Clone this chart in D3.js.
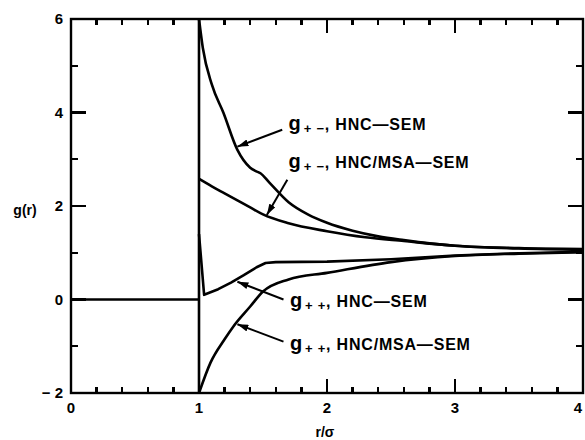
<!DOCTYPE html>
<html>
<head>
<meta charset="utf-8">
<script src="https://cdn.jsdelivr.net/npm/d3@7"></script>
<style>
    body { margin: 0; background: #fff; }
    svg { display: block; font-family: "Liberation Sans", Arial, sans-serif; font-weight: bold; }
</style>
</head>
<body>
<div id="chart"></div>
<script>
// values, r/sigma vs g(r)
const rCore = [0, 1];
const gCore = [0, 0];

const rPmHnc = [1.0, 1.03, 1.1, 1.19, 1.3, 1.4, 1.44, 1.48, 1.55, 1.7, 1.85, 2.0, 2.2, 2.4, 2.6, 3.0, 3.5, 4.0];
const gPmHnc = [6.0, 5.38, 4.6, 4.0, 3.2, 2.82, 2.75, 2.7, 2.5, 2.08, 1.82, 1.64, 1.47, 1.35, 1.27, 1.15, 1.1, 1.08];

const rPmMsa = [1.0, 1.1, 1.2, 1.3, 1.4, 1.5, 1.7, 2.0, 2.3, 2.6, 3.0, 3.5, 4.0];
const gPmMsa = [2.58, 2.42, 2.27, 2.12, 1.97, 1.82, 1.63, 1.46, 1.33, 1.25, 1.15, 1.09, 1.06];

const rPpHnc = [1.0, 1.04, 1.15, 1.25, 1.35, 1.45, 1.52, 1.6, 2.0, 2.5, 3.0, 3.5, 4.0];
const gPpHnc = [1.4, 0.1, 0.22, 0.36, 0.52, 0.69, 0.78, 0.8, 0.81, 0.86, 0.94, 0.99, 1.02];

const rPpMsa = [1.0, 1.09, 1.2, 1.27, 1.4, 1.5, 1.7, 2.0, 2.5, 3.0, 3.5, 4.0];
const gPpMsa = [-2.0, -1.35, -0.85, -0.57, -0.15, 0.17, 0.43, 0.57, 0.8, 0.93, 0.98, 1.01];

const xTicks = [0, 1, 2, 3, 4];
const xTickLabels = ["0", "1", "2", "3", "4"];
const yTicks = [-2, 0, 2, 4, 6];
const yTickLabels = ["\u2212 2", "0", "2", "4", "6"];

const labelSubs = ["+ \u2212", "+ \u2212", "+ +", "+ +"];
const labelNames = [", HNC\u2014SEM", ", HNC/MSA\u2014SEM", ", HNC\u2014SEM", ", HNC/MSA\u2014SEM"];
// text anchor and arrow (from -> to) in data units
const labelAt = [[1.70, 3.63], [1.70, 2.82], [1.71, -0.15], [1.71, -1.07]];
const arrowFrom = [[1.65, 3.63], [1.69, 2.56], [1.66, 0.0], [1.66, -0.90]];
const arrowTo = [[1.30, 3.27], [1.53, 1.81], [1.30, 0.38], [1.30, -0.53]];

const frame = {left: 71, right: 583, top: 19, bottom: 393};

const x = d3.scaleLinear().domain([0, 4]).range([frame.left, frame.right]);
const y = d3.scaleLinear().domain([-2, 6]).range([frame.bottom, frame.top]);

const svg = d3.select("#chart").append("svg")
    .attr("width", 585)
    .attr("height", 440);

svg.append("defs").append("marker")
    .attr("id", "head")
    .attr("viewBox", "0 0 11 7")
    .attr("refX", 11)
    .attr("refY", 3.5)
    .attr("markerWidth", 11)
    .attr("markerHeight", 7)
    .attr("markerUnits", "userSpaceOnUse")
    .attr("orient", "auto")
    .append("path")
    .attr("d", "M0,0 L11,3.5 L0,7 z")
    .attr("fill", "#000");

svg.append("rect")
    .attr("x", frame.left)
    .attr("y", frame.top)
    .attr("width", frame.right - frame.left)
    .attr("height", frame.bottom - frame.top)
    .attr("fill", "none")
    .attr("stroke", "#000")
    .attr("stroke-width", 2.4);

svg.selectAll("text.xl")
    .data(xTicks)
    .join("text")
    .attr("class", "xl")
    .attr("x", d => Math.min(x(d), frame.right - 1))
    .attr("y", frame.bottom + 20)
    .attr("text-anchor", (d, i) => i === xTicks.length - 1 ? "end" : "middle")
    .attr("font-size", 15)
    .text((d, i) => xTickLabels[i]);

svg.selectAll("text.yl")
    .data(yTicks)
    .join("text")
    .attr("class", "yl")
    .attr("x", frame.left - 8)
    .attr("y", d => y(d))
    .attr("dy", "0.36em")
    .attr("text-anchor", "end")
    .attr("font-size", 15)
    .text((d, i) => yTickLabels[i]);

const smooth = d3.line()
    .x(d => x(d[0]))
    .y(d => y(d[1]))
    .curve(d3.curveMonotoneX);

const straight = d3.line()
    .x(d => x(d[0]))
    .y(d => y(d[1]));

const zip = (rs, gs) => rs.map((r, i) => [r, gs[i]]);

const curves = [
    straight(zip(rCore, gCore)),
    straight([[1, -2], [1, 6]]),          // hard-core wall at r = sigma
    smooth(zip(rPmHnc, gPmHnc)),
    smooth(zip(rPmMsa, gPmMsa)),
    smooth(zip(rPpMsa, gPpMsa)),
    straight(zip(rPpHnc, gPpHnc))
];

svg.selectAll("path.curve")
    .data(curves)
    .join("path")
    .attr("class", "curve")
    .attr("d", d => d)
    .attr("fill", "none")
    .attr("stroke", "#000")
    .attr("stroke-width", 2.6)
    .attr("stroke-linejoin", "round");

// labels with arrows
labelAt.forEach((p, i) => {
    svg.append("line")
        .attr("x1", x(arrowFrom[i][0]))
        .attr("y1", y(arrowFrom[i][1]))
        .attr("x2", x(arrowTo[i][0]))
        .attr("y2", y(arrowTo[i][1]))
        .attr("stroke", "#000")
        .attr("stroke-width", 2)
        .attr("marker-end", "url(#head)");

    const t = svg.append("text")
        .attr("x", x(p[0]))
        .attr("y", y(p[1]))
        .attr("font-size", 16)
        .attr("letter-spacing", 0.8);
    t.append("tspan").attr("font-size", 20).text("g");
    t.append("tspan").attr("font-size", 13).attr("dx", 2).attr("dy", 3).text(labelSubs[i]);
    t.append("tspan").attr("dy", -3).text(labelNames[i]);
});

svg.append("text")
    .attr("x", 25)
    .attr("y", 215)
    .attr("text-anchor", "middle")
    .attr("font-size", 14)
    .text("g(r)");

svg.append("text")
    .attr("x", 325)
    .attr("y", 437)
    .attr("text-anchor", "middle")
    .attr("font-size", 14)
    .text("r/\u03c3");

// inward ticks drawn last, on top of everything
const minorX = d3.range(1, 20).filter(i => i % 5 !== 0).map(i => i / 5);
const minorY = [-1, 1, 3, 5];

const tickSets = [];
minorX.forEach(d => tickSets.push({v: d, len: 6, axis: "x"}));
xTicks.forEach(d => tickSets.push({v: d, len: 14, axis: "x"}));
minorY.forEach(d => tickSets.push({v: d, len: 7, axis: "y"}));
yTicks.forEach(d => tickSets.push({v: d, len: 15, axis: "y"}));

const ticksG = svg.append("g")
    .attr("stroke", "#000")
    .attr("stroke-width", 2.4)
    .attr("shape-rendering", "crispEdges");

tickSets.forEach(t => {
    if (t.axis === "x") {
        ticksG.append("line")
            .attr("x1", x(t.v)).attr("x2", x(t.v))
            .attr("y1", frame.bottom).attr("y2", frame.bottom - t.len);
        ticksG.append("line")
            .attr("x1", x(t.v)).attr("x2", x(t.v))
            .attr("y1", frame.top).attr("y2", frame.top + t.len);
    } else {
        ticksG.append("line")
            .attr("y1", y(t.v)).attr("y2", y(t.v))
            .attr("x1", frame.left).attr("x2", frame.left + t.len);
        ticksG.append("line")
            .attr("y1", y(t.v)).attr("y2", y(t.v))
            .attr("x1", frame.right).attr("x2", frame.right - t.len);
    }
});
</script>
</body>
</html>
